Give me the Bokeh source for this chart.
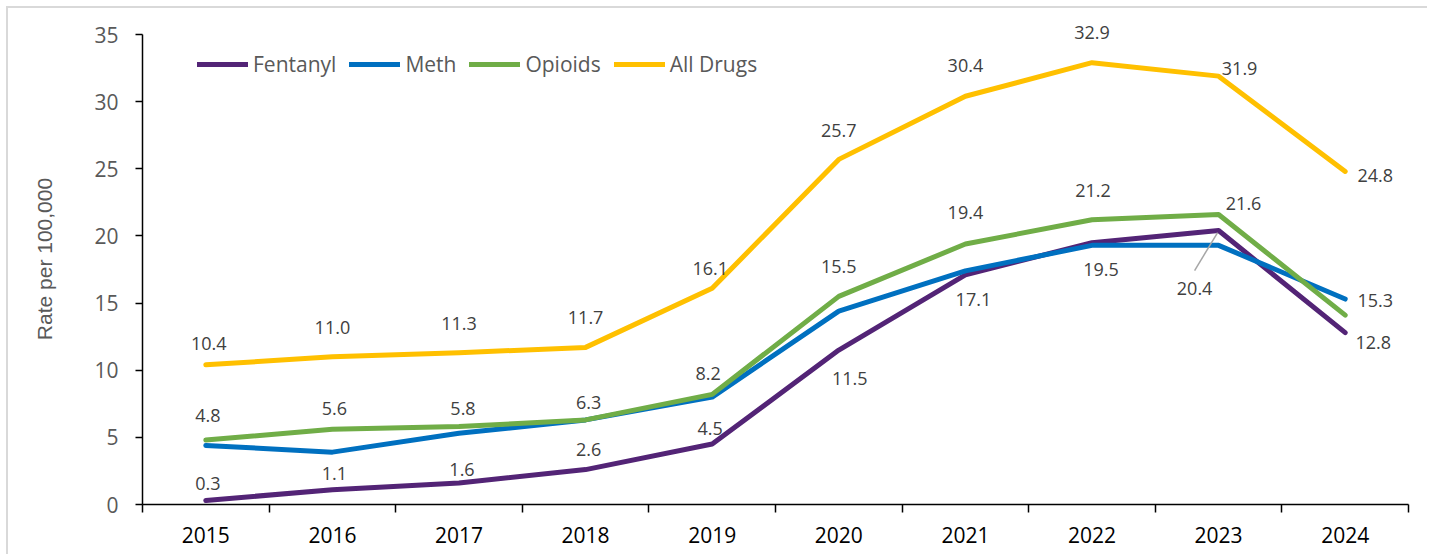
from bokeh.plotting import figure
from bokeh.models import ColumnDataSource, FixedTicker, Legend, LegendItem, Range1d, LabelSet
from bokeh.core.properties import value
from bokeh.embed import file_html
from bokeh.resources import INLINE

# ---------------- data ----------------
years = ["2015", "2016", "2017", "2018", "2019", "2020", "2021", "2022", "2023", "2024"]
fentanyl = [0.3, 1.1, 1.6, 2.6, 4.5, 11.5, 17.1, 19.5, 20.4, 12.8]
meth = [4.4, 3.9, 5.3, 6.3, 8.0, 14.4, 17.4, 19.3, 19.3, 15.3]
opioids = [4.8, 5.6, 5.8, 6.3, 8.2, 15.5, 19.4, 21.2, 21.6, 14.1]
all_drugs = [10.4, 11.0, 11.3, 11.7, 16.1, 25.7, 30.4, 32.9, 31.9, 24.8]
y_ticks = [0, 5, 10, 15, 20, 25, 30, 35]

# ---------------- style ----------------
FONT = "Open Sans"
COLORS = {"Fentanyl": "#532476", "Meth": "#0070C0", "Opioids": "#70AD47", "All Drugs": "#FFC000"}
AXIS_W, AXIS_H = 1266, 470      # pixel extent of the drawn axes
Y_MAX = 35                      # top of the y axis
HEADROOM = 21                   # extra px above the axis so top labels are not clipped
FRAME_H = AXIS_H + HEADROOM
Y_TOP = Y_MAX * FRAME_H / AXIS_H

# label offsets in screen px (dx, dy; dy positive = down); None = no label
label_offsets = {
    "All Drugs": [(3, -21), (0, -29), (0, -29), (0, -30), (-2, -20), (0, -29), (0, -31), (0, -30), (21, -8), (30, 4)],
    "Opioids": [(2, -25), (2, -21), (4, -18), (3, -17), (-4, -21), (0, -30), (0, -31), (1, -29), (25, -11), None],
    "Fentanyl": [(2, -17), (2, -16), (3, -14), (3, -20), (-2, -16), (11, 28), (8, 25), (9, 27), (-24, 58), (28, 10)],
    "Meth": [None] * 9 + [(30, 1)],
}

series = [("Fentanyl", fentanyl), ("Meth", meth), ("Opioids", opioids), ("All Drugs", all_drugs)]
xs = [i + 0.5 for i in range(len(years))]

p = figure(
    frame_width=AXIS_W, frame_height=FRAME_H,
    x_range=Range1d(0, len(years)), y_range=Range1d(0, Y_TOP),
    output_backend="svg", toolbar_location=None,
    min_border_left=134, min_border_right=19, min_border_top=26 - HEADROOM, min_border_bottom=50,
)
p.styles = {"margin-left": "6px", "margin-top": "6px",
            "border-left": "2px solid #d9d9d9", "border-top": "2px solid #d9d9d9"}
p.outline_line_color = None
p.xgrid.visible = False
p.ygrid.visible = False
p.background_fill_color = "white"
p.border_fill_color = "white"

# x axis: labels at category centres, ticks at boundaries
p.xaxis.ticker = FixedTicker(ticks=xs, minor_ticks=list(range(len(years) + 1)))
p.xaxis.major_label_overrides = {x: y for x, y in zip(xs, years)}
p.xaxis.major_tick_out = 0
p.xaxis.major_tick_in = 0
p.xaxis.minor_tick_out = 8
p.xaxis.minor_tick_in = 0
p.xaxis.minor_tick_line_color = "black"
p.xaxis.minor_tick_line_width = 1.5
p.xaxis.axis_line_color = "black"
p.xaxis.axis_line_width = 1.5
p.xaxis.major_label_text_font = FONT
p.xaxis.major_label_text_font_size = "21px"
p.xaxis.major_label_text_color = "black"
p.xaxis.major_label_standoff = 14

# y axis
p.yaxis.ticker = FixedTicker(ticks=y_ticks)
p.yaxis.bounds = (0, Y_MAX)
p.yaxis.major_tick_out = 7
p.yaxis.major_tick_in = 0
p.yaxis.minor_tick_line_color = None
p.yaxis.major_tick_line_color = "black"
p.yaxis.major_tick_line_width = 1.5
p.yaxis.axis_line_color = "black"
p.yaxis.axis_line_width = 1.5
p.yaxis.major_label_text_font = FONT
p.yaxis.major_label_text_font_size = "21px"
p.yaxis.major_label_text_color = "#595959"
p.yaxis.major_label_standoff = 17
p.yaxis.axis_label = "Rate per 100,000"
p.yaxis.axis_label_text_font = "Liberation Sans"
p.yaxis.axis_label_text_font_size = "21px"
p.yaxis.axis_label_text_font_style = "normal"
p.yaxis.axis_label_text_color = "#595959"
p.yaxis.axis_label_standoff = 35

renderers = {}
for name, vals in series:
    src = ColumnDataSource(dict(x=xs, y=vals))
    renderers[name] = p.line("x", "y", source=src, line_color=COLORS[name], line_width=5,
                             line_cap="round", line_join="round")

# data labels
lx, ly, lt, ldx, ldy = [], [], [], [], []
for name, vals in series:
    for x, v, off in zip(xs, vals, label_offsets[name]):
        if off is None:
            continue
        lx.append(x); ly.append(v); lt.append(f"{v:.1f}"); ldx.append(off[0]); ldy.append(-off[1])
lsrc = ColumnDataSource(dict(x=lx, y=ly, t=lt, dx=ldx, dy=ldy))
labels = LabelSet(x="x", y="y", text="t", source=lsrc, x_offset="dx", y_offset="dy",
                  text_font=value(FONT), text_font_size="18px", text_color="#404040",
                  text_align="center", text_baseline="middle", level="overlay")
p.add_layout(labels)

# leader line for Fentanyl 2023 label
px_x = AXIS_W / len(years)
px_y = AXIS_H / Y_MAX
i23 = years.index("2023")
ox, oy = label_offsets["Fentanyl"][i23]
p.segment(x0=[xs[i23] - 1 / px_x], y0=[fentanyl[i23] - 2 / px_y],
          x1=[xs[i23] + ox / px_x], y1=[fentanyl[i23] - (oy - 18) / px_y],
          line_color="#A6A6A6", line_width=1.5)

legend = Legend(
    items=[LegendItem(label=n, renderers=[renderers[n]]) for n, _ in series],
    orientation="horizontal", location=(55, 426),
    border_line_alpha=0, background_fill_alpha=0, padding=0, margin=0,
    glyph_width=51, glyph_height=24, label_height=24, label_standoff=5, spacing=13,
    label_text_font=FONT, label_text_font_size="21px", label_text_color="#595959",
)
p.add_layout(legend)

open("out.html", "w").write(file_html(p, INLINE))
